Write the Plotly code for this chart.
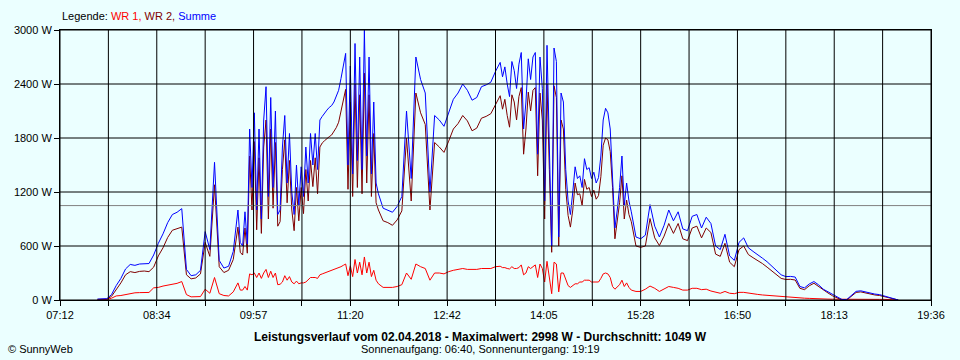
import plotly.graph_objects as go

# ---------------- data ----------------
# logging scheme: (first sample, last sample, interval in minutes)
sampling = [("07:44", "09:44", 4),
            ("09:46", "11:44", 2),
            ("11:48", "13:28", 4),
            ("13:30", "15:20", 2),
            ("15:24", "19:08", 4)]

summe = [
    # 07:44 - 09:44
    10, 12, 15, 60, 160, 240, 345, 395, 385, 400, 405, 405, 500, 630, 735,
    860, 950, 975, 1015, 340, 270, 280, 330, 760, 560, 1530, 440, 355, 375,
    540, 1000,
    # 09:46 - 11:44
    640, 600, 980, 620, 1900, 1250, 2080, 1000, 1900, 900,
    2000, 2370, 1150, 2250, 1250, 2100, 950, 1000, 1700, 2050,
    1300, 1850, 1200, 950, 1500, 1050, 1480, 1150, 1700, 1300,
    1850, 1500, 1850, 1450, 2000, 2040, 2080, 2110, 2140, 2160,
    2200, 2260, 2330, 2460, 2600, 2740, 1500, 2600, 1400, 2850,
    1550, 2700, 1450, 2998, 1600, 2700, 1400, 2200, 1300, 1180,
    # 11:48 - 13:28
    1020, 1000, 975, 1040, 1150, 2100, 1350, 2700, 2450, 2300, 1200, 2050,
    2000, 1930, 2080, 2230, 2300, 2400, 2330, 2220, 2250, 2370, 2390, 2420,
    2540, 2640,
    # 13:30 - 15:20
    2480, 2590, 2400, 2260, 2650, 2550, 2350, 2620, 2750, 1900,
    2200, 2680, 2450, 2700, 2750, 1620, 2700, 2350, 1100, 2830,
    1700, 600, 2800, 2650, 700, 2300, 2200, 1450, 1100, 950,
    1200, 1480, 1350, 1380, 1250, 1570, 1450, 1470, 1350, 1420,
    1300, 1360, 1600, 2000, 2130, 2080, 1900, 1400, 800, 1000,
    1250, 1600, 1050, 1300, 1100, 980,
    # 15:24 - 19:08
    700, 680, 720, 1060, 820, 700, 830, 1000, 880, 980, 790, 770, 930, 950,
    800, 920, 850, 600, 560, 730, 490, 440, 640, 690, 580, 540, 505, 465,
    425, 375, 330, 280, 260, 262, 255, 150, 135, 178, 205, 168, 120, 90, 56,
    28, 5, 5, 50, 96, 102, 88, 72, 66, 60, 45, 28, 10, 0]

wr2 = [
    # 07:44 - 09:44
    7, 8, 10, 40, 115, 190, 280, 315, 305, 318, 322, 315, 365, 490, 580,
    695, 775, 790, 810, 280, 235, 245, 290, 640, 485, 1280, 370, 305, 330,
    450, 810,
    # 09:46 - 11:44
    530, 500, 800, 520, 1600, 1000, 1760, 780, 1580, 740,
    1700, 2000, 900, 1900, 1020, 1750, 820, 870, 1450, 1780,
    1080, 1550, 1000, 770, 1250, 880, 1250, 960, 1450, 1100,
    1550, 1260, 1580, 1180, 1700, 1745, 1770, 1796, 1815, 1833,
    1870, 1915, 1975, 2090, 2210, 2340, 1230, 2200, 1150, 2400,
    1250, 2280, 1180, 2520, 1300, 2280, 1150, 1850, 1080, 1000,
    # 11:48 - 13:28
    880, 860, 830, 890, 990, 1800, 1100, 2300, 2080, 1950, 1000, 1750,
    1700, 1640, 1765, 1900, 1960, 2050, 1990, 1880, 1910, 2020, 2040, 2070,
    2170, 2270,
    # 13:30 - 15:20
    2120, 2230, 2050, 1920, 2280, 2200, 2000, 2260, 2360, 1620,
    1900, 2310, 2100, 2330, 2360, 1380, 2300, 2000, 900, 2400,
    1450, 530, 2380, 2250, 600, 2000, 1900, 1230, 940, 810,
    1000, 1300, 1170, 1180, 1050, 1340, 1230, 1250, 1150, 1220,
    1120, 1160, 1370, 1720, 1800, 1780, 1650, 1250, 680, 860,
    1080, 1380, 900, 1110, 950, 870,
    # 15:24 - 19:08
    600, 585, 600, 905, 690, 605, 710, 850, 740, 850, 680, 660, 800, 820,
    690, 800, 750, 510, 485, 630, 420, 370, 560, 600, 505, 470, 440, 405,
    365, 320, 280, 240, 228, 230, 222, 130, 115, 158, 186, 150, 106, 78, 46,
    22, 0, 0, 40, 84, 90, 76, 62, 56, 50, 37, 22, 5, 0]

wr1 = [
    # 07:44 - 09:44
    3, 4, 5, 20, 45, 50, 60, 75, 80, 82, 82, 84, 135, 140, 155,
    165, 175, 185, 205, 60, 35, 35, 38, 120, 75, 250, 70, 50, 45,
    90, 190,
    # 09:46 - 11:44
    110, 110, 150, 110, 290, 280, 300, 250, 300, 240,
    300, 340, 250, 320, 250, 300, 170, 175, 200, 270,
    220, 260, 200, 180, 210, 180, 190, 190, 200, 220,
    250, 250, 250, 240, 280, 290, 300, 310, 320, 330,
    335, 345, 355, 370, 385, 400, 270, 380, 260, 450,
    300, 420, 280, 478, 300, 420, 260, 330, 220, 180,
    # 11:48 - 13:28
    140, 140, 140, 150, 170, 300, 230, 400, 370, 350, 220, 300,
    300, 290, 315, 330, 340, 350, 340, 340, 340, 350, 350, 350,
    370, 375,
    # 13:30 - 15:20
    360, 360, 350, 345, 370, 350, 350, 360, 390, 280,
    300, 370, 350, 370, 390, 250, 400, 350, 200, 430,
    250, 70, 420, 400, 90, 300, 300, 220, 160, 140,
    160, 180, 180, 200, 200, 220, 220, 220, 200, 200,
    200, 200, 240, 290, 300, 290, 250, 150, 120, 140,
    170, 220, 150, 190, 140, 110,
    # 15:24 - 19:08
    95, 95, 120, 155, 130, 95, 120, 150, 140, 130, 110, 110, 130, 130,
    115, 120, 100, 90, 75, 95, 75, 70, 85, 85, 75, 70, 62, 56,
    52, 45, 38, 32, 30, 30, 28, 22, 20, 18, 18, 16, 14, 10, 9,
    8, 8, 7, 8, 8, 8, 8, 8, 7, 7, 7, 6, 4, 0]

avg_w = 1049                     # "Durchschnitt"
max_w = 2998                     # "Maximalwert"
axis_start = "07:12"
axis_end = "19:36"
x_tick_labels = ["07:12", "08:34", "09:57", "11:20", "12:42",
                 "14:05", "15:28", "16:50", "18:13", "19:36"]
y_tick_values = [0, 600, 1200, 1800, 2400, 3000]
y_tick_labels = ["0 W", "600 W", "1200 W", "1800 W", "2400 W", "3000 W"]

title_text = ("Leistungsverlauf vom 02.04.2018 - Maximalwert: 2998 W - "
              "Durchschnitt: 1049 W")
subtitle_text = "Sonnenaufgang: 06:40, Sonnenuntergang: 19:19"
credit_text = "© SunnyWeb"

# ---------------- helpers ----------------
def to_min(hhmm):
    h, m = hhmm.split(":")
    return int(h) * 60 + int(m)

times = []
for first, last, step in sampling:
    times.extend(range(to_min(first), to_min(last) + 1, step))
assert len(times) == len(summe) == len(wr1) == len(wr2), (
    len(times), len(summe), len(wr1), len(wr2))

x_lo, x_hi = to_min(axis_start), to_min(axis_end)
n_ticks = 2 * (len(x_tick_labels) - 1) + 1
x_tick_vals = [x_lo + (x_hi - x_lo) * k / (n_ticks - 1) for k in range(n_ticks)]
x_tick_text = [x_tick_labels[k // 2] if k % 2 == 0 else "" for k in range(n_ticks)]

BG = "#EBFFFF"
FONT = "Liberation Sans, Arial, sans-serif"

fig = go.Figure()
fig.add_trace(go.Scatter(x=times, y=wr1, mode="lines", name="WR 1",
                         line=dict(color="#FF0000", width=1)))
fig.add_trace(go.Scatter(x=times, y=wr2, mode="lines", name="WR 2",
                         line=dict(color="#800000", width=1)))
fig.add_trace(go.Scatter(x=times, y=summe, mode="lines", name="Summe",
                         line=dict(color="#0000FF", width=1)))

shapes = []
# average line
shapes.append(dict(type="line", xref="x", yref="y", x0=x_lo, x1=x_hi,
                   y0=avg_w, y1=avg_w, line=dict(color="#808080", width=1),
                   layer="above"))
# grid drawn above the data, like the original
for xv in x_tick_vals:
    shapes.append(dict(type="line", xref="x", yref="y", x0=xv, x1=xv,
                       y0=y_tick_values[0], y1=y_tick_values[-1],
                       line=dict(color="black", width=1), layer="above"))
for yv in y_tick_values:
    shapes.append(dict(type="line", xref="x", yref="y", x0=x_lo, x1=x_hi,
                       y0=yv, y1=yv, line=dict(color="black", width=1),
                       layer="above"))

legend_html = ('Legende: <span style="color:#FF0000">WR 1, </span>'
               '<span style="color:#800000">WR 2, </span>'
               '<span style="color:#0000FF">Summe</span>')

annotations = [
    dict(text=legend_html, xref="paper", yref="paper", x=0, y=1.052,
         xanchor="left", yanchor="middle", showarrow=False,
         font=dict(family=FONT, size=11, color="black")),
    dict(text="<b>" + title_text + "</b>", xref="paper", yref="paper",
         x=(480 - 60) / 871, y=-0.137, xanchor="center", yanchor="middle",
         showarrow=False, font=dict(family=FONT, size=12, color="black")),
    dict(text=subtitle_text, xref="paper", yref="paper",
         x=(480 - 60) / 871, y=-0.183, xanchor="center", yanchor="middle",
         showarrow=False, font=dict(family=FONT, size=11, color="black")),
    dict(text=credit_text, xref="paper", yref="paper",
         x=(6 - 60) / 871, y=-0.181, xanchor="left", yanchor="middle",
         showarrow=False, font=dict(family=FONT, size=11, color="black")),
]

fig.update_layout(
    width=960, height=360,
    margin=dict(l=60, r=29, t=30, b=60, pad=0),
    paper_bgcolor=BG, plot_bgcolor=BG,
    showlegend=False,
    font=dict(family=FONT, size=11, color="black"),
    shapes=shapes,
    annotations=annotations,
    xaxis=dict(range=[x_lo, x_hi], tickmode="array", tickvals=x_tick_vals,
               ticktext=x_tick_text, ticks="outside", ticklen=5,
               tickcolor="black", tickwidth=1, showgrid=False, zeroline=False,
               showline=True, linecolor="black", linewidth=1, mirror=True,
               layer="above traces", tickfont=dict(family=FONT, size=11)),
    yaxis=dict(range=[0, 3000], tickmode="array", tickvals=y_tick_values,
               ticktext=y_tick_labels, ticks="outside", ticklen=5,
               tickcolor="black", tickwidth=1, showgrid=False, zeroline=False,
               showline=True, linecolor="black", linewidth=1, mirror=True,
               layer="above traces", tickfont=dict(family=FONT, size=11)),
)

fig.write_html(
    "out.html",
    config={"displayModeBar": False},
    post_script=("document.body.style.margin='0';"
                 "document.body.style.padding='0';"
                 "document.body.style.overflow='hidden';"
                 "document.body.style.background='" + BG + "';"),
)
